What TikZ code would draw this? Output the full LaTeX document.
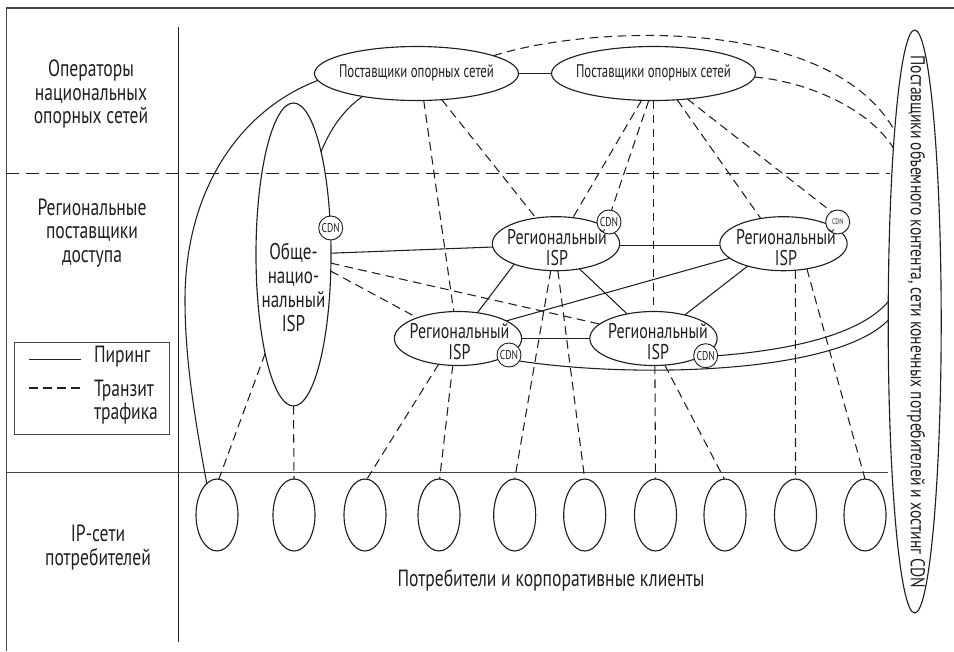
\documentclass[tikz,border=0pt]{standalone}
\usepackage{fontspec}
\setmainfont[FakeStretch=0.75]{PT Sans}
\newfontfamily\fnarrow[FakeStretch=0.70]{PT Sans}
\newfontfamily\fside[FakeStretch=0.78]{PT Sans}
\usetikzlibrary{shapes.geometric,calc}
\definecolor{ink}{HTML}{231F20}
\definecolor{frameink}{HTML}{444444}
\tikzset{
  every node/.style={text=ink,inner sep=0pt,outer sep=0pt,align=center},
  oval/.style={ellipse,draw=ink,line width=0.85pt,inner sep=0pt,outer sep=0pt},
  backbone/.style={oval,minimum width=153pt,minimum height=40.5pt},
  regional/.style={oval,minimum width=95.5pt,minimum height=40.5pt},
  client/.style={oval,minimum width=31.5pt,minimum height=54pt},
  cdnc/.style={circle,draw=ink,fill=white,line width=0.7pt,minimum size=18pt},
  cdnt/.style={font=\fontsize{9.6pt}{10pt}\selectfont},
  level/.style={font=\fontsize{17.6pt}{17.6pt}\selectfont},
  regtext/.style={font=\fontsize{16pt}{15.75pt}\selectfont},
  nattext/.style={font=\fontsize{17pt}{18pt}\selectfont},
  small/.style={font=\fnarrow\fontsize{13.7pt}{15pt}\selectfont},
  sidetext/.style={font=\fside\fontsize{15pt}{17pt}\selectfont},
  peer/.style={draw=ink,line width=0.8pt},
  transit/.style={draw=ink,line width=0.8pt,dash pattern=on 6.5pt off 4pt},
  frameline/.style={draw=frameink,line width=1pt},
}
\begin{document}
\begin{tikzpicture}[x=0.75pt,y=-0.75pt]
\useasboundingbox (0,0) rectangle (954,651);
% frame and dividers
\coordinate (ftl) at (6.5,8);
\coordinate (ftr) at (954,8);
\coordinate (fbl) at (6.5,651);
\coordinate (vt) at (178.5,27);
\coordinate (vb) at (178.5,642);
\coordinate (dl) at (6,173.5);
\coordinate (dr) at (890,173.5);
\coordinate (sl) at (6,472.5);
\coordinate (sr) at (888,472.5);
\draw[frameline] (fbl) -- (ftl) -- (ftr);
\draw[draw=ink,line width=0.8pt] (vt) -- (vb);
\draw[draw=ink,line width=0.8pt,dash pattern=on 10pt off 5pt] (dl) -- (dr);
\draw[frameline,line width=0.9pt] (sl) -- (sr);
% ovals
\node[backbone] (b1) at (416.5,73.5) {};
\node[backbone] (b2) at (653.5,73.5) {};
\node[oval,minimum width=56.25pt,minimum height=227.25pt] (nat) at (293.5,254.5) {};
\node[oval,minimum width=39.75pt,minimum height=437.25pt] (big) at (914.7,321.5) {};
\node[regional] (r1) at (556,243.7) {};
\node[regional] (r2) at (783.5,243.7) {};
\node[regional] (r3) at (458,338.5) {};
\node[regional] (r4) at (653.5,338.5) {};
\foreach \n/\x in {s1/217,s2/294,s3/365,s4/439,s5/514.7,s6/584.7,s7/655.5,s8/725,s9/795.5,s10/865}
  \node[client] (\n) at (\x,515) {};
% peering
\draw[peer] (b1.east) -- (b2.west);
\draw[peer] (b1.184) .. controls (240,110) and (185,190) .. (185,300) .. controls (185,360) and (195,420) .. (s1.108);
\draw[peer] (b1.203) .. controls (343,110) and (330,130) .. (nat.75.7);
\draw[peer] (nat.2) -- (r1.183);
\draw[peer] (r1.358) -- (r2.182);
\draw[peer] (r1.206.5) -- (r3.53.5);
\draw[peer] (r1.313.5) -- (r4.137.3);
\draw[peer] (r2.212.4) -- (r4.37.6);
\draw[peer] (r2.195) -- (r3.20.6);
\draw[peer] (r3.east) -- (r4.west);
% CDN circles
\node[cdnc] (c0) at (330.7,228) {};
\node[cdnc] (c1) at (609,222) {};
\node[cdnc] (c2) at (837.7,222) {};
\node[cdnc] (c3) at (509,355) {};
\node[cdnc] (c4) at (705.7,355.7) {};
\draw[peer] (c4.east) .. controls (790,350) and (860,335) .. (big.143.4);
\draw[peer] (c3.330) .. controls (630,378) and (835,375) .. (big.177);
% transit
\draw[transit] (b1.285.7) -- (r3.99.9);
\draw[transit] (b1.314) -- (r1.128.5);
\draw[transit] (b2.246.4) -- (r1.57.5);
\draw[transit] (b2.260) -- (c1.78.5);
\draw[transit] (b2.south) -- (r4.north);
\draw[transit] (b2.312) -- (r2.132.4);
\draw[transit] (b2.323) -- (c2.121.8);
\draw[transit] (b1.13.2) .. controls (590,25) and (830,15) .. (big.96.7);
\draw[transit] (b2.358) .. controls (810,82) and (870,110) .. (big.97.7);
\draw[transit] (nat.347.3) -- (r4.165.9);
\draw[transit] (nat.336) -- (r3.153);
\draw[transit] (nat.254.2) -- (s1.87);
\draw[transit] (nat.south) -- (s2.north);
\draw[transit] (r3.233.5) -- (s3.87);
\draw[transit] (r3.259) -- (s4.89);
\draw[transit] (r1.259) -- (s5.north);
\draw[transit] (r1.274) -- (s6.north);
\draw[transit] (r4.273) -- (s7.north);
\draw[transit] (r4.293) -- (s8.91);
\draw[transit] (r2.294.3) -- (s9.north);
\draw[transit] (r2.313.2) -- (s10.north);
% CDN labels
\node[cdnt] (c0t) at (c0) {CDN};
\node[cdnt] (c1t) at (c1) {CDN};
\node[font=\fontsize{6pt}{7pt}\selectfont] (c2t) at (c2) {CDN};
\node[cdnt] (c3t) at (c3) {CDN};
\node[cdnt] (c4t) at (c4) {CDN};
% oval labels
\node[small] (b1t) at (416.5,73) {Поставщики опорных сетей};
\node[small] (b2t) at (653.5,73) {Поставщики опорных сетей};
\node[regtext] (r1t) at (557,248) {Региональный\\ISP};
\node[regtext] (r2t) at (786,248) {Региональный\\ISP};
\node[regtext] (r3t) at (459.5,342) {Региональный\\ISP};
\node[regtext] (r4t) at (658,342) {Региональный\\ISP};
\node[nattext] (natt) at (293.5,287) {Обще-\\нацио-\\нальный\\ISP};
\node[sidetext,rotate=-90] (bigt) at (916,321.7) {Поставщики объемного контента, сети конечных потребителей и хостинг CDN};
% level labels
\node[level] (l1) at (91,94) {Операторы\\национальных\\опорных сетей};
\node[level] (l2) at (92,233) {Региональные\\поставщики\\доступа};
\node[level] (l3) at (98,547.5) {IP-сети\\потребителей};
\node[level] (l4) at (551,580) {Потребители и корпоративные клиенты};
% legend
\node[draw=frameink,line width=0.8pt,minimum width=116pt,minimum height=69pt] (legend) at (92,388.5) {};
\coordinate (la) at (29,359.5);
\coordinate (lb) at (81,359.5);
\coordinate (lc) at (29,388);
\coordinate (ld) at (81,388);
\draw[peer] (la) -- (lb);
\draw[transit] (lc) -- (ld);
\node[level,anchor=west] (lt1) at (94,357) {Пиринг};
\node[level,anchor=west,align=left] (lt2) at (94,402) {Транзит\\трафика};
\end{tikzpicture}
\end{document}
